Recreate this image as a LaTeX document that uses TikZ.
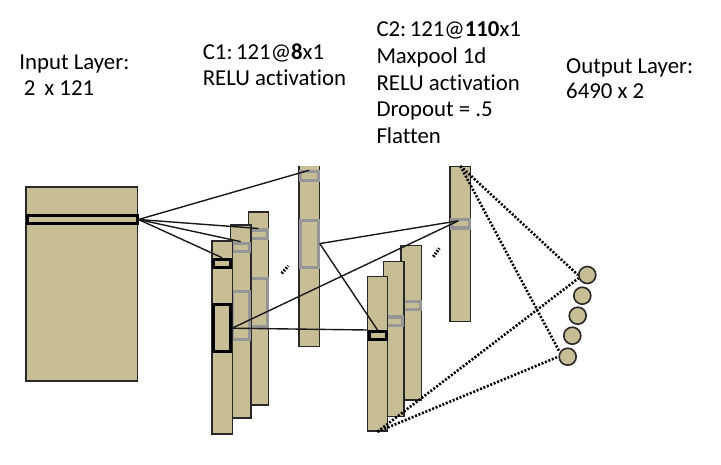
\documentclass[tikz,border=0pt]{standalone}
\usepackage{fontspec}
\setmainfont{Carlito}[RawFeature=-liga]
\usetikzlibrary{calc}
\definecolor{tan}{RGB}{200,190,150}
\definecolor{boxgray}{RGB}{150,150,150}
\definecolor{edge}{RGB}{40,40,40}
\tikzset{
  fmap/.style={draw=edge, fill=tan, line width=1.4pt, inner sep=0pt, minimum width=20.4pt, minimum height=193pt},
  graysel/.style={draw=boxgray, line width=3.2pt, inner sep=0pt, minimum width=17.5pt},
  blacksel/.style={draw=black, fill=tan, line width=3pt, inner sep=0pt, minimum width=17pt},
  conn/.style={draw=black!90, line width=1.4pt},
  dotconn/.style={draw=black, line width=2.6pt, dash pattern=on 2pt off 1.7pt},
  ellip/.style={draw=black, line width=3pt, dash pattern=on 1.7pt off 1.4pt},
  neuron/.style={circle, draw=edge, fill=tan, line width=1.6pt, minimum size=17pt, inner sep=0pt},
  lbltext/.style={anchor=base west, inner sep=0pt, font=\fontsize{22.8}{#1}\selectfont},
}
\begin{document}
\begin{tikzpicture}[x=1pt, y=-1pt]
\path[use as bounding box, fill=white] (0,0) rectangle (721,464);

% ---- labels ----
\node[lbltext=25.7] (tin) at (19.2,69.3) {\begin{tabular}[t]{@{}l@{}}Input Layer:\\\hspace{4.5pt}2\hspace{9pt}x 121\end{tabular}};
\node[lbltext=26.4] (tc1) at (202.6,59.3) {\begin{tabular}[t]{@{}l@{}}C1:\hspace{3.5pt}121@\textbf{8}x1\\RELU activation\end{tabular}};
\node[lbltext=26.67] (tc2) at (376.3,36.7) {\begin{tabular}[t]{@{}l@{}}C2:\hspace{3.5pt}121@\textbf{110}x1\\Maxpool 1d\\RELU activation\\Dropout = .5\\Flatten\end{tabular}};
\node[lbltext=25] (tout) at (566,73.3) {\begin{tabular}[t]{@{}l@{}}Output Layer:\\6490 x 2\end{tabular}};

% ---- input layer ----
\node[fmap, minimum width=111.5pt, minimum height=194pt] (in) at (81.75,284) {};
\node[blacksel, minimum width=110pt, minimum height=8pt] (inbar) at (82,219.5) {};

% ---- C1 feature maps ----
\node[fmap] (C1c) at (258.5,308.65) {};
\node[graysel, minimum height=8.5pt] (C1cS) at (258.5,234.3) {};
\node[graysel, minimum height=48pt] (C1cB) at (258.5,302.2) {};

\node[fmap] (C1b) at (240.7,321.5) {};
\node[graysel, minimum height=8.5pt] (C1bS) at (240.7,247.5) {};
\node[graysel, minimum height=48pt] (C1bB) at (240.7,315.5) {};

\node[fmap] (C1a) at (222.15,337.5) {};
\node[blacksel, minimum height=8pt] (C1aS) at (222.15,263.2) {};
\node[blacksel, minimum height=47pt] (C1aB) at (222.15,328.2) {};

\begin{scope}
\clip (0,166) rectangle (721,464);
\node[fmap] (C1d) at (309.15,250.2) {};
\node[graysel, minimum width=18pt, minimum height=8.3pt] (C1dS) at (309.15,176) {};
\node[graysel, minimum width=18pt, minimum height=47pt] (C1dB) at (309.15,243.6) {};
\end{scope}

% ---- C2 feature maps ----
\node[fmap, minimum height=154.3pt] (C2c) at (411.35,322.85) {};
\node[graysel, minimum height=8.5pt] (C2cS) at (411.35,305.35) {};

\node[fmap, minimum height=155pt] (C2b) at (393.65,339.2) {};
\node[graysel, minimum height=8.5pt] (C2bS) at (393.65,321.2) {};

\node[fmap, minimum height=154.3pt] (C2a) at (377.5,353.85) {};
\node[blacksel, minimum height=8pt] (C2aS) at (377.5,335.5) {};

% ---- flatten ----
\node[fmap, minimum width=20.7pt, minimum height=155pt] (F) at (460.35,244.2) {};
\node[graysel, minimum width=18pt, minimum height=8.5pt] (Fg) at (460.35,223.8) {};

% ---- output neurons ----
\node[neuron] (O1) at (587.3,275) {};
\node[neuron] (O2) at (582.3,295.7) {};
\node[neuron] (O3) at (577.7,315.7) {};
\node[neuron] (O4) at (572.3,335.7) {};
\node[neuron] (O5) at (567.7,356.7) {};

% ---- ellipsis marks ----
\coordinate (e1a) at (281.7,273.3);
\coordinate (e1b) at (288.3,266);
\coordinate (e2a) at (433.3,256.7);
\coordinate (e2b) at (439.3,248.3);
\draw[ellip] (e1a) -- (e1b);
\draw[ellip] (e2a) -- (e2b);

% ---- connectors ----
\coordinate (Fin) at ($(Fg.center)+(-2,-3)$);
\draw[conn] (inbar.east) -- (C1dS.north);
\draw[conn] (inbar.east) -- (C1cS.north);
\draw[conn] (inbar.east) -- (C1bS.north);
\draw[conn] (inbar.east) -- (C1aS.north);
\draw[conn] (C1aB.east) -- (Fin);
\draw[conn] (C1aB.east) -- (C2aS.north west);
\draw[conn] (C1dB.east) -- (Fin);
\draw[conn] (C1dB.east) -- (C2aS.north);

\draw[dotconn] (F.north) -- (O1.west);
\draw[dotconn] (F.north) -- (O5.150);
\draw[dotconn] (C2a.south) -- (O1.200);
\draw[dotconn] (C2a.south) -- (O5.west);
\end{tikzpicture}
\end{document}
